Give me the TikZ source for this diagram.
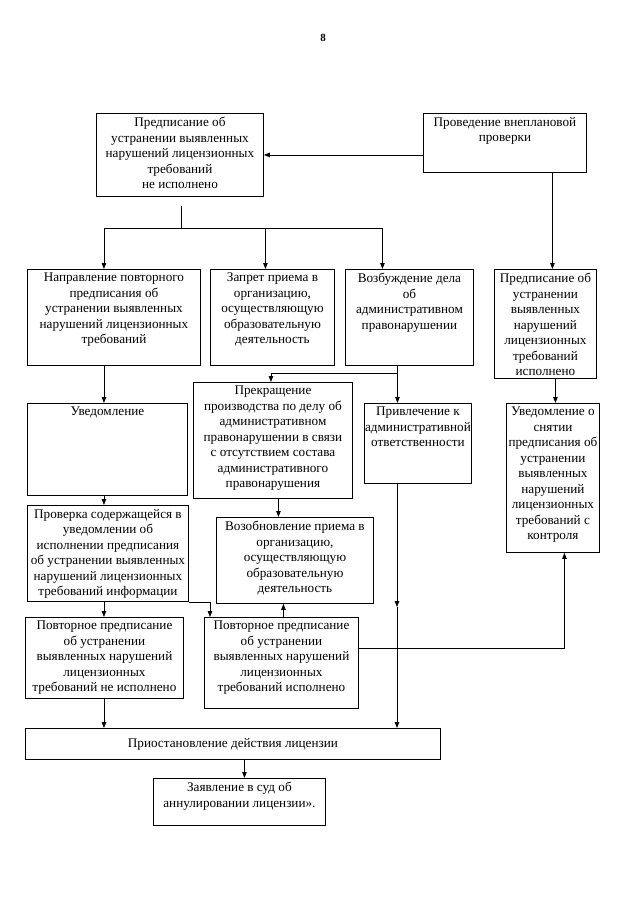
\documentclass[tikz,border=0pt]{standalone}
\usepackage{fontspec}
\setmainfont{Liberation Serif}
\usetikzlibrary{arrows.meta}
\begin{document}
\begin{tikzpicture}[x=1pt,y=-1pt,
  box/.style={draw,line width=0.9pt,anchor=north west,inner sep=0pt},
  txt/.style={anchor=north,align=center,inner sep=0pt,font=\fontsize{13.2}{15.5}\selectfont},
  arr/.style={line width=0.8pt,-{Triangle[length=6pt,width=4.5pt]}},
  ln/.style={line width=0.8pt}]
\useasboundingbox (0,0) rectangle (640,905);
\node[font=\fontsize{11}{13}\selectfont\bfseries] (pagenum) at (323,38) {8};
% top row
\node[box,minimum width=167pt,minimum height=83pt] (pred) at (96,113) {};
\node[txt] (pred-t) at ([yshift=-4pt]pred.north) {Предписание об\\устранении выявленных\\нарушений лицензионных\\требований\\не исполнено};
\node[box,minimum width=163pt,minimum height=59pt] (prov) at (423,113) {};
\node[txt] (prov-t) at ([yshift=-4pt]prov.north) {Проведение внеплановой\\проверки};
% second row
\node[box,minimum width=173pt,minimum height=96pt] (napr) at (27,269) {};
\node[txt] (napr-t) at ([yshift=-4pt]napr.north) {Направление повторного\\предписания об\\устранении выявленных\\нарушений лицензионных\\требований};
\node[box,minimum width=124pt,minimum height=96pt] (zapr) at (210,269) {};
\node[txt] (zapr-t) at ([yshift=-4pt]zapr.north) {Запрет приема в\\организацию,\\осуществляющую\\образовательную\\деятельность};
\node[box,minimum width=128pt,minimum height=96pt] (vozb) at (345,269) {};
\node[txt] (vozb-t) at ([yshift=-4pt]vozb.north) {Возбуждение дела\\об\\административном\\правонарушении};
\node[box,minimum width=102pt,minimum height=109pt] (ispoln) at (494,269) {};
\node[txt] (ispoln-t) at ([yshift=-4pt]ispoln.north) {Предписание об\\устранении\\выявленных\\нарушений\\лицензионных\\требований\\исполнено};
% third row
\node[box,minimum width=160pt,minimum height=92pt] (uved) at (27,403) {};
\node[txt] (uved-t) at ([yshift=-4pt]uved.north) {Уведомление};
\node[box,minimum width=159pt,minimum height=116pt] (prekr) at (193,382) {};
\node[txt] (prekr-t) at ([yshift=-4pt]prekr.north) {Прекращение\\производства по делу об\\административном\\правонарушении в связи\\с отсутствием состава\\административного\\правонарушения};
\node[box,minimum width=107pt,minimum height=80pt] (privl) at (364,403) {};
\node[txt] (privl-t) at ([yshift=-4pt]privl.north) {Привлечение к\\административной\\ответственности};
\node[box,minimum width=93pt,minimum height=149pt] (snyat) at (506,403) {};
\node[txt] (snyat-t) at ([yshift=-4pt]snyat.north) {Уведомление о\\снятии\\предписания об\\устранении\\выявленных\\нарушений\\лицензионных\\требований с\\контроля};
% fourth row
\node[box,minimum width=161pt,minimum height=96pt] (prover) at (27,505) {};
\node[txt] (prover-t) at ([yshift=-4pt]prover.north) {Проверка содержащейся в\\уведомлении об\\исполнении предписания\\об устранении выявленных\\нарушений лицензионных\\требований информации};
\node[box,minimum width=157pt,minimum height=86pt] (vozob) at (216,517) {};
\node[txt] (vozob-t) at ([yshift=-4pt]vozob.north) {Возобновление приема в\\организацию,\\осуществляющую\\образовательную\\деятельность};
% fifth row
\node[box,minimum width=158pt,minimum height=81pt] (povtne) at (25,617) {};
\node[txt] (povtne-t) at ([yshift=-4pt]povtne.north) {Повторное предписание\\об устранении\\выявленных нарушений\\лицензионных\\требований не исполнено};
\node[box,minimum width=154pt,minimum height=91pt] (povtisp) at (204,617) {};
\node[txt] (povtisp-t) at ([yshift=-4pt]povtisp.north) {Повторное предписание\\об устранении\\выявленных нарушений\\лицензионных\\требований исполнено};
% bottom
\node[box,minimum width=415pt,minimum height=31pt] (priost) at (25,728) {};
\node[txt,anchor=center] (priost-t) at (priost.center) {Приостановление действия лицензии};
\node[box,minimum width=172pt,minimum height=47pt] (zayav) at (153,778) {};
\node[txt] (zayav-t) at ([yshift=-4pt]zayav.north) {Заявление в суд об\\аннулировании лицензии».};
% connectors
\coordinate (s0) at (181,206);
\coordinate (s1) at (181,228);
\coordinate (mid) at (397,607);
\draw[arr] (prov.west |- pred.east) -- (pred.east);
\draw[ln] (s0) -- (s1);
\draw[arr] (s1) -| ([xshift=-10pt]napr.north);
\draw[arr] (s1) -| ([xshift=-27pt]vozb.north);
\draw[arr] ([xshift=-7pt]zapr.north |- s1) -- ([xshift=-7pt]zapr.north);
\draw[arr] ([xshift=7pt]ispoln.north |- prov.south) -- ([xshift=7pt]ispoln.north);
\draw[arr] ([xshift=-10pt]napr.south) -- ([xshift=-10pt]napr.south |- uved.north);
\draw[arr] ([xshift=-10pt]napr.south |- uved.south) -- ([xshift=-10pt]napr.south |- prover.north);
\draw[arr] ([xshift=-10pt]napr.south |- prover.south) -- ([xshift=-10pt]napr.south |- povtne.north);
\draw[arr] (prover.south east) -| ([xshift=6pt]povtisp.north west);
\draw[arr] ([xshift=-12pt]vozb.south) -- ([xshift=-12pt]vozb.south |- privl.north);
\draw[arr] ([xshift=-12pt,yshift=-7pt]vozb.south) -| ([xshift=-2pt]prekr.north);
\draw[arr] ([xshift=10pt]ispoln.south) -- ([xshift=10pt]ispoln.south |- snyat.north);
\draw[arr] ([xshift=5.5pt]prekr.south) -- ([xshift=5.5pt]prekr.south |- vozob.north);
\draw[arr] ([xshift=2pt]povtisp.north) -- ([xshift=2pt]povtisp.north |- vozob.south);
\draw[arr] (privl.south -| mid) -- (mid);
\draw[arr] (mid) -- (mid |- priost.north);
\draw[arr] ([yshift=14.5pt]povtisp.east) -| ([xshift=11.5pt]snyat.south);
\draw[arr] ([xshift=-10pt]napr.south |- povtne.south) -- ([xshift=-10pt]napr.south |- priost.north);
\draw[arr] ([xshift=5pt]zayav.north |- priost.south) -- ([xshift=5pt]zayav.north);
\end{tikzpicture}
\end{document}
